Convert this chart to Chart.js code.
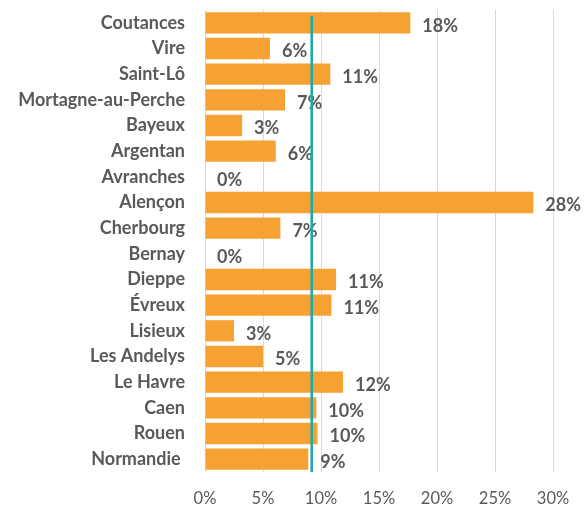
<!DOCTYPE html>
<html>
<head>
<meta charset="utf-8">
<script src="https://cdn.jsdelivr.net/npm/chart.js@4"></script>
<style>
  html, body { margin: 0; padding: 0; background: #fff; }
</style>
</head>
<body>
<canvas id="chart" width="587" height="506"></canvas>
<script>
const cities = ['Coutances', 'Vire', 'Saint-Lô', 'Mortagne-au-Perche', 'Bayeux', 'Argentan', 'Avranches',
  'Alençon', 'Cherbourg', 'Bernay', 'Dieppe', 'Évreux', 'Lisieux', 'Les Andelys', 'Le Havre', 'Caen',
  'Rouen', 'Normandie '];
const rates = [17.7, 5.6, 10.8, 6.9, 3.2, 6.1, 0, 28.3, 6.5, 0, 11.3, 10.9, 2.5, 5.0, 11.9, 9.6, 9.7, 8.9];
const average = 9.2;
const xTicks = [0, 5, 10, 15, 20, 25, 30];

const GREY = '#595959';
const FONT = 'Lato, "Open Sans", sans-serif';

// draws "NN%" just right of each bar
const barLabels = {
  id: 'barLabels',
  afterDatasetsDraw(chart) {
    const ctx = chart.ctx;
    const meta = chart.getDatasetMeta(0);
    ctx.save();
    ctx.font = 'bold 18px ' + FONT;
    ctx.fillStyle = GREY;
    ctx.textAlign = 'left';
    ctx.textBaseline = 'middle';
    meta.data.forEach((bar, i) => {
      ctx.fillText(Math.round(rates[i]) + '%', bar.x + 12, bar.y + 3);
    });
    ctx.restore();
  }
};

// vertical average line
const avgLine = {
  id: 'avgLine',
  afterDatasetsDraw(chart) {
    const { ctx, chartArea, scales } = chart;
    const x = scales.x.getPixelForValue(average);
    ctx.save();
    ctx.strokeStyle = '#22A7AF';
    ctx.lineWidth = 2.6;
    ctx.beginPath();
    ctx.moveTo(x, chartArea.top + 6);
    ctx.lineTo(x, chartArea.bottom);
    ctx.stroke();
    ctx.restore();
  }
};

new Chart(document.getElementById('chart'), {
  type: 'bar',
  data: {
    labels: cities,
    datasets: [{
      data: rates,
      backgroundColor: '#F5A233',
      borderWidth: 0,
      categoryPercentage: 1,
      barPercentage: 0.83
    }]
  },
  options: {
    indexAxis: 'y',
    responsive: false,
    animation: false,
    layout: { padding: { top: 10, right: 34, bottom: 0, left: 0 } },
    plugins: { legend: { display: false }, tooltip: { enabled: false } },
    scales: {
      x: {
        min: 0, max: 30,
        afterBuildTicks: s => { s.ticks = xTicks.map(v => ({ value: v })); },
        afterFit: s => { s.height = 34; s.paddingLeft = 0; s.paddingRight = 0; },
        grid: { color: '#D9D9D9', drawTicks: false },
        border: { display: false },
        ticks: {
          color: GREY,
          padding: 17,
          font: { family: FONT, size: 16.5 },
          callback: v => v + '%'
        }
      },
      y: {
        afterFit: s => { s.width = 205; s.paddingTop = 0; s.paddingBottom = 0; },
        grid: { display: false, drawTicks: false },
        border: { display: false },
        ticks: {
          color: GREY,
          padding: 20,
          autoSkip: false,
          font: { family: FONT, size: 18, weight: 'bold' }
        }
      }
    }
  },
  plugins: [barLabels, avgLine]
});
</script>
</body>
</html>
